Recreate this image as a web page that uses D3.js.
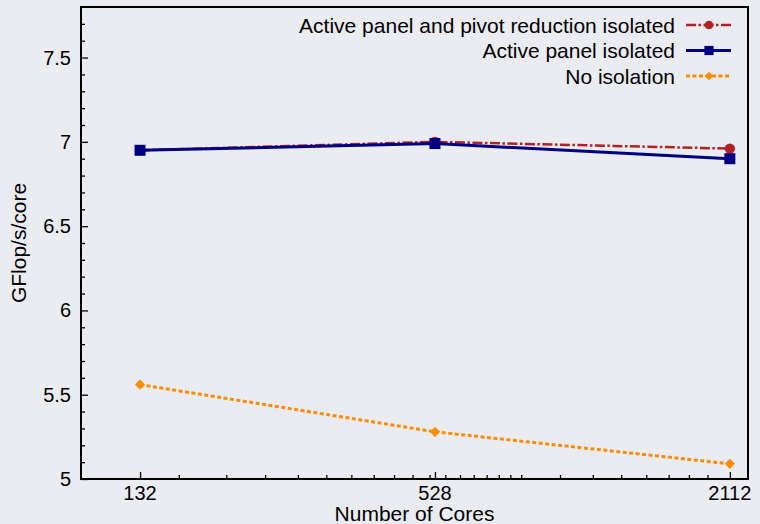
<!DOCTYPE html>
<html>
<head>
<meta charset="utf-8">
<script src="https://cdn.jsdelivr.net/npm/d3@7"></script>
<style>
  body { margin: 0; background: #ebecf1; }
  svg { display: block; font-family: "Liberation Sans", Arial, sans-serif; }
</style>
</head>
<body>
<div id="chart"></div>
<script>
var cores = [132, 528, 2112];
var pivotIsolated = [6.95, 7.00, 6.96];
var panelIsolated = [6.95, 6.99, 6.90];
var noIsolation = [5.56, 5.28, 5.09];

var xTickValues = [132, 528, 2112];
var xMinorTicks = [158.4, 198, 237.6, 277.2, 316.8, 356.4, 396, 435.6, 475.2, 514.8,
                   554.4, 594, 633.6, 673.2, 712.8, 752.4, 792,
                   950.4, 1108.8, 1267.2, 1425.6, 1584, 1742.4, 1900.8];
var yTickValues = [5, 5.5, 6, 6.5, 7, 7.5];
var yMinorTicks = [5.1, 5.2, 5.3, 5.4, 5.6, 5.7, 5.8, 5.9, 6.1, 6.2, 6.3, 6.4,
                   6.6, 6.7, 6.8, 6.9, 7.1, 7.2, 7.3, 7.4, 7.6, 7.7];

var seriesNames = ["Active panel and pivot reduction isolated", "Active panel isolated", "No isolation"];

function plotChart(containerId) {
    var WIDTH = 760;
    var HEIGHT = 524;
    var MARGINS = {top: 7, right: 12, bottom: 45, left: 81};

    var svg = d3.select('#' + containerId).append("svg")
        .attr("width", WIDTH)
        .attr("height", HEIGHT);

    var xScale = d3.scaleLog().range([MARGINS.left, WIDTH - MARGINS.right])
                              .domain([100, 2300]);
    var yScale = d3.scaleLinear().range([HEIGHT - MARGINS.bottom, MARGINS.top])
                                 .domain([5, 7.8]);

    var x0 = MARGINS.left, x1 = WIDTH - MARGINS.right;
    var y0 = HEIGHT - MARGINS.bottom, y1 = MARGINS.top;

    // ticks point inward, like gnuplot
    var xAxis = d3.axisTop(xScale).tickValues(xTickValues).tickSize(7).tickFormat("");
    var xMinor = d3.axisTop(xScale).tickValues(xMinorTicks).tickSize(4).tickFormat("");
    svg.append("g").attr("transform", "translate(0," + y0 + ")").call(xAxis);
    svg.append("g").attr("transform", "translate(0," + y0 + ")").call(xMinor);

    var yAxis = d3.axisRight(yScale).tickValues(yTickValues).tickSize(7).tickFormat("");
    var yMinor = d3.axisRight(yScale).tickValues(yMinorTicks).tickSize(4).tickFormat("");
    svg.append("g").attr("transform", "translate(" + x0 + ",0)").call(yAxis);
    svg.append("g").attr("transform", "translate(" + x0 + ",0)").call(yMinor);

    svg.selectAll(".domain").remove();
    svg.selectAll(".tick line").attr("stroke", "#000").attr("stroke-width", 1.3);

    // tick labels
    svg.append("g").selectAll("text")
        .data(xTickValues)
        .enter().append("text")
        .attr("x", function(d) { return xScale(d); })
        .attr("y", y0 + 21)
        .attr("text-anchor", "middle")
        .style("font-size", "20px")
        .text(function(d) { return d; });

    svg.append("g").selectAll("text")
        .data(yTickValues)
        .enter().append("text")
        .attr("x", x0 - 10)
        .attr("y", function(d) { return yScale(d) + 7; })
        .attr("text-anchor", "end")
        .style("font-size", "20px")
        .text(function(d) { return d; });

    // frame
    svg.append("rect")
        .attr("x", x0)
        .attr("y", y1)
        .attr("width", x1 - x0)
        .attr("height", y0 - y1)
        .attr("fill", "none")
        .attr("stroke", "#000")
        .attr("stroke-width", 2);

    // axis titles
    svg.append("text")
        .attr("x", (x0 + x1) / 2)
        .attr("y", HEIGHT - 3)
        .attr("text-anchor", "middle")
        .style("font-size", "21px")
        .text("Number of Cores");

    svg.append("text")
        .attr("transform", "translate(26," + ((y0 + y1) / 2) + ") rotate(-90)")
        .attr("text-anchor", "middle")
        .style("font-size", "21px")
        .text("GFlop/s/core");

    var line = d3.line()
                 .x(function(d) { return xScale(d.x); })
                 .y(function(d) { return yScale(d.y); });

    function toPoints(vals) {
        return cores.map(function(c, i) { return {x: c, y: vals[i]}; });
    }

    var series = [
        {name: seriesNames[2], data: toPoints(noIsolation), color: "#ff8c00", width: 3, dash: "4,2.5", symbol: d3.symbolSquare, size: 52, rot: 45},
        {name: seriesNames[0], data: toPoints(pivotIsolated), color: "#b22222", width: 2.5, dash: "10,2.5,2.5,2.5", symbol: d3.symbolCircle, size: 85, rot: 0},
        {name: seriesNames[1], data: toPoints(panelIsolated), color: "#000080", width: 3, dash: null, symbol: d3.symbolSquare, size: 121, rot: 0}
    ];

    series.forEach(function(s) {
        svg.append("path")
            .datum(s.data)
            .attr("d", line)
            .style("fill", "none")
            .style("stroke", s.color)
            .style("stroke-width", s.width)
            .style("stroke-dasharray", s.dash);

        svg.append("g")
            .selectAll("path")
            .data(s.data)
            .enter().append("path")
            .attr("transform", function(d) { return "translate(" + xScale(d.x) + "," + yScale(d.y) + ") rotate(" + s.rot + ")"; })
            .attr("d", d3.symbol().type(s.symbol).size(s.size))
            .style("fill", s.color);
    });

    // legend
    var legendOrder = [series[1], series[2], series[0]];
    var legend = svg.append("g");
    legendOrder.forEach(function(s, i) {
        var ly = 25 + i * 25.5;
        legend.append("text")
            .attr("x", 675)
            .attr("y", ly + 7.5)
            .attr("text-anchor", "end")
            .style("font-size", "21px")
            .text(s.name);
        legend.append("line")
            .attr("x1", 686)
            .attr("x2", 731)
            .attr("y1", ly)
            .attr("y2", ly)
            .style("stroke", s.color)
            .style("stroke-width", s.width)
            .style("stroke-dasharray", s.dash);
        legend.append("path")
            .attr("transform", "translate(709," + ly + ") rotate(" + s.rot + ")")
            .attr("d", d3.symbol().type(s.symbol).size(s.size * 0.7))
            .style("fill", s.color);
    });
}

plotChart("chart");
</script>
</body>
</html>
